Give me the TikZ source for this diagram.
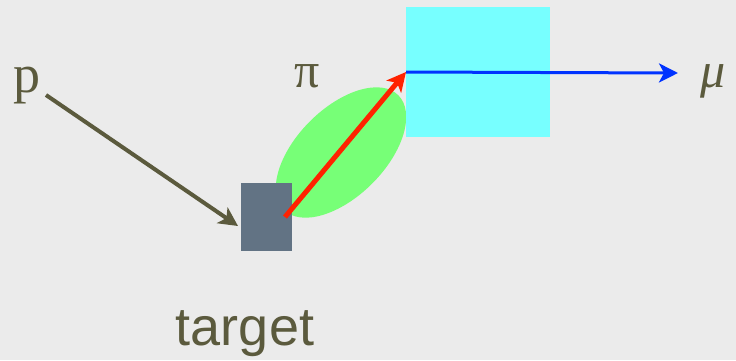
\documentclass[tikz,border=0pt]{standalone}
\usepackage{fontspec}
\setmainfont{Liberation Serif}
\newfontfamily\labsans{Liberation Sans}
\usetikzlibrary{shapes.geometric,arrows.meta}
\definecolor{bg}{HTML}{EBEBEB}
\definecolor{olive}{HTML}{5B5A3D}
\definecolor{slate}{HTML}{627384}
\definecolor{cyanbox}{HTML}{77FFFF}
\definecolor{greenell}{HTML}{77FF77}
\definecolor{redarr}{HTML}{FF2200}
\definecolor{bluearr}{HTML}{0033FF}
\tikzset{
  lbl/.style={text=olive, inner sep=0pt, anchor=base, font=\fontsize{54}{60}\selectfont},
  tip/.style={-{Stealth[length=19pt,width=19pt,inset=5pt]}},
}
\begin{document}
\begin{tikzpicture}[x=1pt,y=-1pt]
\fill[bg] (0,0) rectangle (736,360);
\useasboundingbox (0,0) rectangle (736,360);
% shapes
\node[ellipse, fill=greenell, minimum width=162pt, minimum height=88pt, inner sep=0pt, rotate=45] (ell) at (341,152.5) {};
\node[fill=cyanbox, minimum width=144pt, minimum height=130pt, inner sep=0pt, anchor=north west] (det) at (406,7) {};
\node[fill=slate, minimum width=51pt, minimum height=68pt, inner sep=0pt, anchor=north west] (tgt) at (241,183) {};
% labels
\node[lbl] (p) at (27,92) {p};
\node[lbl, font=\fontsize{50}{60}\selectfont] (pi) at (307,87) {π};
\node[lbl, font=\fontsize{50}{60}\selectfont\itshape] (mu) at (713,87) {μ};
\node[lbl, font=\labsans\fontsize{54}{60}\selectfont] (tlab) at (245,345) {target};
% connector end points
\coordinate (pstart) at (46,95);
\coordinate (tgtin) at (238,226);
\coordinate (redstart) at (285,217);
\coordinate (detin) at (406,72);
\coordinate (muin) at (678,73);
% connectors
\draw[olive, line width=4pt, tip] (pstart) -- (tgtin);
\draw[redarr, line width=5pt, tip] (redstart) -- (detin);
\draw[bluearr, line width=3pt, tip] (detin) -- (muin);
\end{tikzpicture}
\end{document}
